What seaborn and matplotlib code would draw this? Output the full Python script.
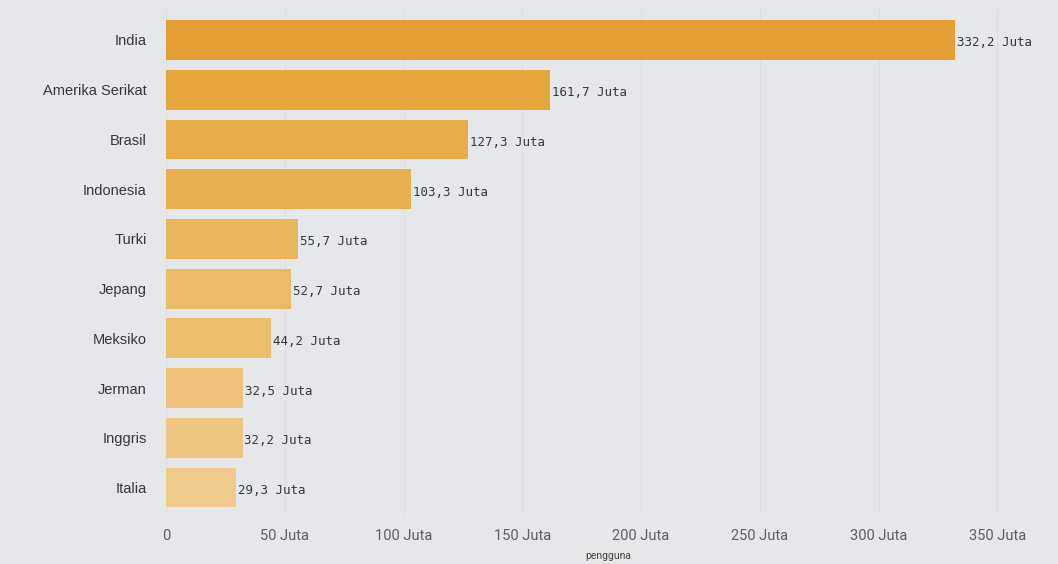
import matplotlib
matplotlib.use("Agg")
import matplotlib.pyplot as plt
import seaborn as sns
import pandas as pd

countries = ["India", "Amerika Serikat", "Brasil", "Indonesia", "Turki",
             "Jepang", "Meksiko", "Jerman", "Inggris", "Italia"]
users_juta = [332.2, 161.7, 127.3, 103.3, 55.7, 52.7, 44.2, 32.5, 32.2, 29.3]
value_labels = ["332,2 Juta", "161,7 Juta", "127,3 Juta", "103,3 Juta", "55,7 Juta",
                "52,7 Juta", "44,2 Juta", "32,5 Juta", "32,2 Juta", "29,3 Juta"]
x_ticks = [0, 50, 100, 150, 200, 250, 300, 350]
x_tick_labels = ["0", "50 Juta", "100 Juta", "150 Juta", "200 Juta",
                 "250 Juta", "300 Juta", "350 Juta"]
bar_colors = ["#E4A034", "#E6A63D", "#E7AB47", "#E8B050", "#EAB65C",
              "#EBBA66", "#ECBE70", "#EDC37B", "#EEC682", "#EFCA8B"]

df = pd.DataFrame({"negara": countries, "pengguna": users_juta})

sns.set_theme(style="white")
plt.rcParams["font.family"] = ["Roboto", "DejaVu Sans"]

bg = "#E6E7E9"
fig = plt.figure(figsize=(10.58, 5.64), dpi=100, facecolor=bg)
ax = fig.add_axes([0.157, 0.087, 0.835, 0.895])
ax.set_facecolor(bg)

sns.barplot(data=df, x="pengguna", y="negara", hue="negara", palette=bar_colors,
            legend=False, width=0.8, ax=ax, saturation=1, linewidth=0)

for i, (v, lab) in enumerate(zip(users_juta, value_labels)):
    ax.text(v + 0.8, i + 0.06, lab, va="center", ha="left", fontsize=9,
            family="DejaVu Sans Mono", color="#333840")

ax.set_xlim(0, 372)
ax.set_ylim(9.55, -0.6)
ax.set_xticks(x_ticks)
ax.set_xticklabels(x_tick_labels, fontsize=10.5, color="#5a5f66")
ax.tick_params(axis="x", length=0, pad=10)
ax.tick_params(axis="y", length=0, pad=14)
for t in ax.get_yticklabels():
    t.set_fontsize(10.5)
    t.set_color("#33373d")
    t.set_family(["Liberation Sans", "DejaVu Sans"])
ax.set_xlabel("pengguna", fontsize=7.5, color="#444", labelpad=6)
ax.set_ylabel("")
ax.grid(axis="x", color="#DCDEE1", linewidth=0.8)
ax.set_axisbelow(True)
for s in ax.spines.values():
    s.set_visible(False)

fig.savefig("out.png", dpi=100, facecolor=bg)
